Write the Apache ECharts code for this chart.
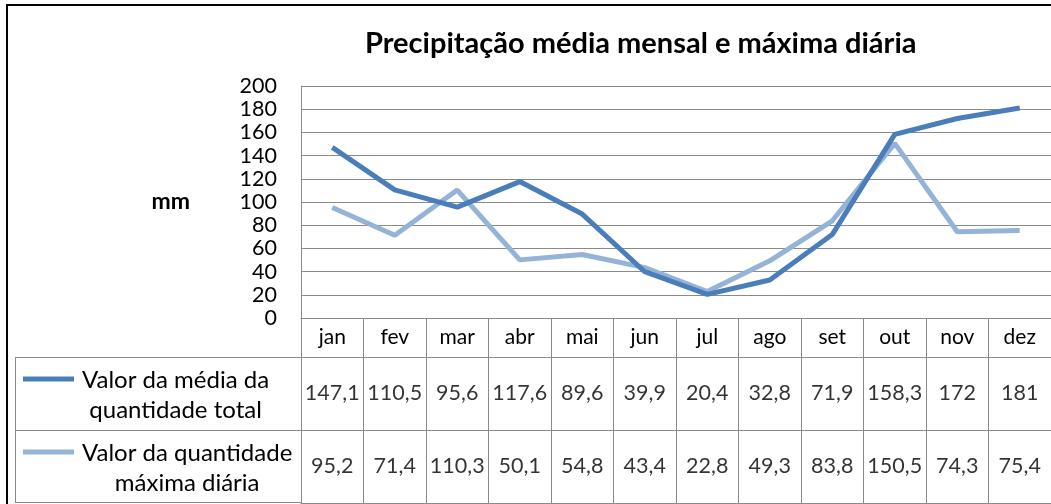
<!DOCTYPE html>
<html>
<head>
<meta charset="utf-8">
<script src="https://cdn.jsdelivr.net/npm/echarts@6/dist/echarts.min.js"></script>
<style>
html,body{margin:0;padding:0;background:#fff;}
#c{width:1051px;height:504px;}
</style>
</head>
<body>
<div id="c"></div>
<script>
const months = ['jan','fev','mar','abr','mai','jun','jul','ago','set','out','nov','dez'];
const mediaTotal = [147.1,110.5,95.6,117.6,89.6,39.9,20.4,32.8,71.9,158.3,172,181];
const maximaDiaria = [95.2,71.4,110.3,50.1,54.8,43.4,22.8,49.3,83.8,150.5,74.3,75.4];
const seriesNames = ['Valor da média da\nquantidade total','Valor da quantidade\nmáxima diária'];
const yTicks = {min:0, max:200, interval:20};
const titleText = 'Precipitação média mensal e máxima diária';
const yName = 'mm';

const colors = ['#4a7ebb','#95b3d7'];
const gridGray = '#8a8a8a';
const FONT = 'Lato';
const fmt = v => String(v).replace('.', ',');

const chart = echarts.init(document.getElementById('c'));

const tableData = [];
mediaTotal.forEach((v,i)=>tableData.push([i,0,fmt(v)]));
maximaDiaria.forEach((v,i)=>tableData.push([i,1,fmt(v)]));

const legendFont = '24px ' + FONT;
const mctx = document.createElement('canvas').getContext('2d');
mctx.font = legendFont;

const graphic = [
  {type:'rect', shape:{x:7,y:5,width:1100,height:600}, style:{fill:null, stroke:'#000', lineWidth:2}, silent:true, z:100},
  {type:'line', shape:{x1:15,y1:357.5,x2:301,y2:357.5}, style:{stroke:gridGray,lineWidth:1}},
  {type:'line', shape:{x1:15,y1:430.5,x2:301,y2:430.5}, style:{stroke:gridGray,lineWidth:1}},
  {type:'line', shape:{x1:15,y1:502.5,x2:301,y2:502.5}, style:{stroke:gridGray,lineWidth:1}},
  {type:'line', shape:{x1:15.5,y1:357,x2:15.5,y2:503}, style:{stroke:gridGray,lineWidth:1}}
];
const rowTop = [357,430];
seriesNames.forEach((n,k)=>{
  const w1 = mctx.measureText(n.split('\n')[0]).width;
  graphic.push({type:'line', shape:{x1:23,y1:rowTop[k]+22,x2:74,y2:rowTop[k]+22}, style:{stroke:colors[k],lineWidth:5}});
  graphic.push({type:'text', x:82 + w1/2, y:rowTop[k]+38, style:{text:n, font:legendFont, fill:'#000', align:'center', verticalAlign:'middle', lineHeight:30}});
});

chart.setOption({
  animation:false,
  textStyle:{fontFamily:FONT},
  title:{text:titleText, left:360, top:24, textStyle:{fontFamily:FONT, fontWeight:'bold', fontSize:29, color:'#000'}},
  grid:[
    {left:301, top:86, right:0, height:232},
    {left:301, top:318, right:0, height:39},
    {left:301, top:357, right:0, height:146}
  ],
  xAxis:[
    {type:'category', gridIndex:0, data:months, boundaryGap:true,
     axisLine:{lineStyle:{color:gridGray,width:1}}, axisTick:{show:false},
     axisLabel:{color:'#000', fontSize:21, margin:9, interval:0, fontFamily:FONT}},
    {type:'category', gridIndex:1, data:months, boundaryGap:true,
     axisLine:{show:true, lineStyle:{color:gridGray,width:1}}, axisTick:{show:false, interval:0},
     axisLabel:{show:false, interval:0},
     splitLine:{show:true, interval:0, lineStyle:{color:gridGray,width:1}}},
    {type:'category', gridIndex:2, data:months, boundaryGap:true,
     axisLine:{show:true, lineStyle:{color:gridGray,width:1}}, axisTick:{show:false, interval:0},
     axisLabel:{show:false, interval:0},
     splitLine:{show:true, interval:0, lineStyle:{color:gridGray,width:1}}}
  ],
  yAxis:[
    {type:'value', gridIndex:0, min:yTicks.min, max:yTicks.max, interval:yTicks.interval,
     name:yName, nameLocation:'middle', nameRotate:0, nameGap:111,
     nameTextStyle:{fontFamily:FONT, fontWeight:'bold', fontSize:23, color:'#000'},
     axisLine:{show:true, lineStyle:{color:gridGray,width:1}}, axisTick:{show:false},
     axisLabel:{color:'#000', fontSize:21.5, margin:24, fontFamily:FONT},
     splitLine:{show:true, lineStyle:{color:gridGray,width:1}}},
    {type:'value', gridIndex:1, show:false},
    {type:'category', gridIndex:2, data:['r1','r2'], inverse:true,
     axisLine:{show:false}, axisTick:{show:false, interval:0}, axisLabel:{show:false, interval:0},
     splitLine:{show:true, interval:0, lineStyle:{color:gridGray,width:1}}}
  ],
  series:[
    {type:'line', name:seriesNames[0], xAxisIndex:0, yAxisIndex:0, data:mediaTotal, symbol:'none',
     lineStyle:{color:colors[0], width:5}, itemStyle:{color:colors[0]}, z:3},
    {type:'line', name:seriesNames[1], xAxisIndex:0, yAxisIndex:0, data:maximaDiaria, symbol:'none',
     lineStyle:{color:colors[1], width:5}, itemStyle:{color:colors[1]}, z:2},
    {type:'scatter', xAxisIndex:2, yAxisIndex:2, data:tableData, symbolSize:1,
     itemStyle:{color:'rgba(0,0,0,0)'},
     label:{show:true, position:'inside', color:'#000', fontSize:21.5, fontFamily:FONT,
       formatter:p=>p.value[2]}}
  ],
  graphic:graphic
});
</script>
</body>
</html>
